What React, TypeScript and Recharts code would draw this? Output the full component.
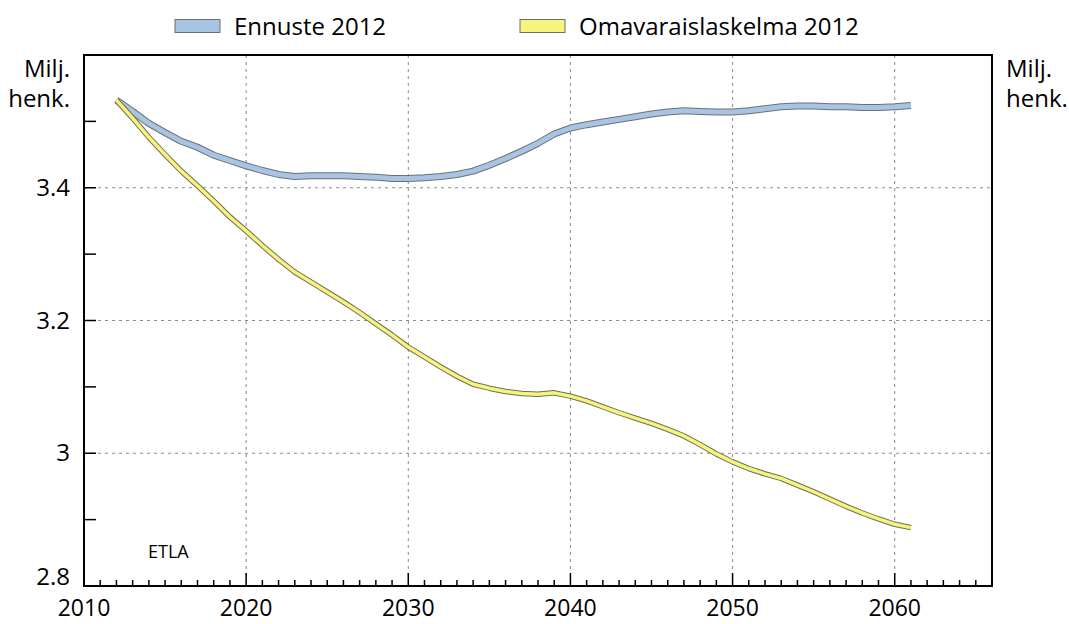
import { LineChart, Line, XAxis, YAxis, CartesianGrid, Legend, ReferenceArea } from 'recharts';

// years 2012..2061
const years = Array.from({ length: 50 }, (_, i) => 2012 + i);

// Ennuste 2012, million persons
const ennuste = [
  3.532, 3.515, 3.497, 3.483, 3.470, 3.461, 3.449, 3.441, 3.433, 3.426,
  3.420, 3.417, 3.418, 3.418, 3.418, 3.417, 3.416, 3.414, 3.414, 3.415,
  3.417, 3.420, 3.425, 3.434, 3.444, 3.455, 3.467, 3.481, 3.490, 3.495,
  3.499, 3.503, 3.507, 3.511, 3.514, 3.516, 3.515, 3.514, 3.514, 3.516,
  3.519, 3.522, 3.523, 3.523, 3.522, 3.522, 3.521, 3.521, 3.522, 3.524,
];

// Omavaraislaskelma 2012
const omavarais = [
  3.532, 3.505, 3.476, 3.450, 3.425, 3.403, 3.380, 3.356, 3.335, 3.313,
  3.292, 3.273, 3.258, 3.243, 3.228, 3.212, 3.195, 3.178, 3.160, 3.145,
  3.130, 3.116, 3.104, 3.098, 3.093, 3.090, 3.089, 3.091, 3.086, 3.079,
  3.070, 3.061, 3.053, 3.045, 3.036, 3.026, 3.013, 2.999, 2.987, 2.977,
  2.969, 2.962, 2.952, 2.942, 2.931, 2.920, 2.910, 2.901, 2.893, 2.888,
];

const xTicks = Array.from({ length: 57 }, (_, i) => 2010 + i);
const yTicks = [2.8, 2.9, 3.0, 3.1, 3.2, 3.3, 3.4, 3.5, 3.6];
const xGrid = [2020, 2030, 2040, 2050, 2060];
const yGrid = [3.0, 3.2, 3.4];

const data = years.map((year, i) => ({ year, ennuste: ennuste[i], omavarais: omavarais[i] }));

const FONT = '"Open Sans", "DejaVu Sans", sans-serif';

function XTick(props: any) {
  const { x, y, payload } = props;
  const v = payload.value;
  const major = v % 10 === 0;
  const edge = v === 2010 || v === 2066;
  return (
    <g>
      {!edge && <line x1={x} x2={x} y1={y} y2={y - (major ? 13 : 6)} stroke="#000" strokeWidth={1.5} />}
      {major && (
        <text x={x} y={y + 30} textAnchor="middle" fontSize={23} fontFamily={FONT} fill="#000">
          {v}
        </text>
      )}
    </g>
  );
}

function yLabel(v: number) {
  const t = Math.round(v * 10);
  if (t % 2 !== 0 || t > 34) return null;
  return String(t / 10);
}

function YTick(props: any) {
  const { x, y, payload, side } = props;
  const v = payload.value;
  const t = Math.round(v * 10);
  const edge = t === 28 || t === 36;
  const dir = side === 'left' ? 1 : -1;
  const label = yLabel(v);
  // bottom label sits just above the axis line
  const dy = t === 28 ? -1 : 8;
  return (
    <g>
      {!edge && <line x1={x} x2={x + dir * 12} y1={y} y2={y} stroke="#000" strokeWidth={1.5} />}
      {label && (
        <text
          x={side === 'left' ? x - 14 : x + 13}
          y={y}
          dy={dy}
          textAnchor={side === 'left' ? 'end' : 'start'}
          fontSize={24}
          fontFamily={FONT}
          fill="#000"
        >
          {label}
        </text>
      )}
    </g>
  );
}

const legendX = [175, 520];

function renderLegend(props: any) {
  const items = (props.payload || []).filter((p: any) => p.type !== 'none');
  return (
    <svg width={1069} height={45} style={{ display: 'block' }}>
      {items.map((p: any, i: number) => (
        <g key={p.value}>
          <rect x={legendX[i]} y={19.5} width={45} height={13} fill={p.color} stroke="#6f6f6f" strokeWidth={1} />
          <text x={legendX[i] + 59} y={35} fontSize={24} fontFamily={FONT} fill="#000">
            {p.value}
          </text>
        </g>
      ))}
    </svg>
  );
}

export default function App() {
  return (
    <div style={{ position: 'absolute', left: 0, top: 0, background: '#fff' }}>
      <LineChart width={1069} height={624} data={data} margin={{ top: 55, right: 0, bottom: 0, left: 0 }}>
        <CartesianGrid
          stroke="#8a8a8a"
          strokeDasharray="3 4"
          verticalValues={xGrid}
          horizontalValues={yGrid}
        />
        <XAxis
          dataKey="year"
          type="number"
          domain={[2010, 2066]}
          ticks={xTicks}
          interval={0}
          height={38}
          axisLine={false}
          tickLine={false}
          tickSize={0}
          tickMargin={0}
          tick={<XTick />}
        />
        <YAxis
          domain={[2.8, 3.6]}
          ticks={yTicks}
          interval={0}
          width={84}
          axisLine={false}
          tickLine={false}
          tickSize={0}
          tickMargin={0}
          tick={<YTick side="left" />}
        />
        <YAxis
          yAxisId="right"
          orientation="right"
          domain={[2.8, 3.6]}
          ticks={yTicks}
          interval={0}
          width={77}
          axisLine={false}
          tickLine={false}
          tickSize={0}
          tickMargin={0}
          tick={<YTick side="right" />}
        />
        <ReferenceArea x1={2010} x2={2066} y1={2.8} y2={3.6} fill="none" stroke="#000" strokeWidth={2} />
        <Legend
          layout="horizontal"
          verticalAlign="middle"
          align="center"
          wrapperStyle={{ top: 0, left: 0, width: 1069 }}
          content={renderLegend}
        />
        <Line dataKey="ennuste" stroke="#6c7177" strokeWidth={7} dot={false} legendType="none" isAnimationActive={false} strokeLinejoin="round" />
        <Line dataKey="ennuste" name="Ennuste 2012" stroke="#a7c4e2" strokeWidth={5} dot={false} isAnimationActive={false} strokeLinejoin="round" />
        <Line dataKey="omavarais" stroke="#6f6f5a" strokeWidth={5.5} dot={false} legendType="none" isAnimationActive={false} strokeLinejoin="round" />
        <Line dataKey="omavarais" name="Omavaraislaskelma 2012" stroke="#f6f47c" strokeWidth={3.5} dot={false} isAnimationActive={false} strokeLinejoin="round" />
        <text x={70} y={77} textAnchor="end" fontSize={24} fontFamily={FONT} fill="#000">Milj.</text>
        <text x={70} y={107} textAnchor="end" fontSize={24} fontFamily={FONT} fill="#000">henk.</text>
        <text x={1006} y={77} fontSize={24} fontFamily={FONT} fill="#000">Milj.</text>
        <text x={1006} y={107} fontSize={24} fontFamily={FONT} fill="#000">henk.</text>
        <text x={148} y={558} fontSize={18} fontFamily={FONT} fill="#000">ETLA</text>
      </LineChart>
    </div>
  );
}
